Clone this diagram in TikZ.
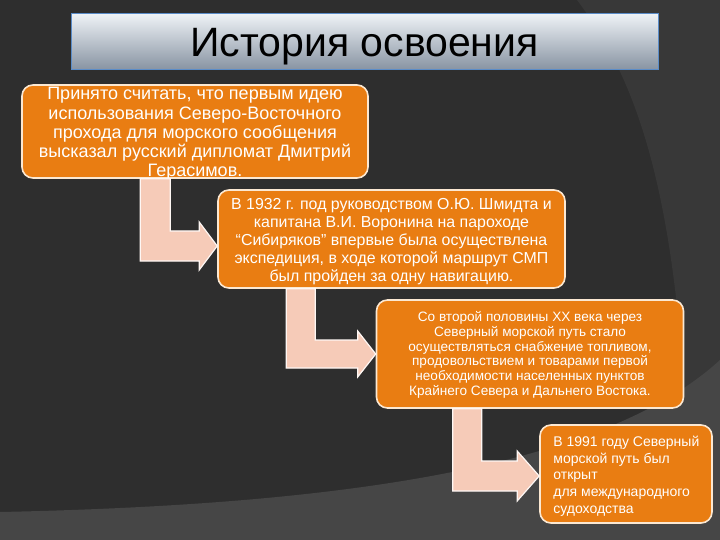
\documentclass[tikz,border=0pt]{standalone}
\usepackage{fontspec}
\setmainfont{Liberation Sans}
\usepackage{tikz}
\usetikzlibrary{positioning,calc}
\definecolor{slide}{HTML}{2E2E2E}
\definecolor{slidemid}{HTML}{383838}
\definecolor{slidelow}{HTML}{464646}
\definecolor{stage}{HTML}{E97D12}
\definecolor{stageedge}{HTML}{FBE8D2}
\definecolor{flow}{HTML}{F6CBB8}
\definecolor{titletop}{HTML}{EEF2F6}
\definecolor{titlebot}{HTML}{8793A2}
\definecolor{titleedge}{HTML}{5A8CC8}

\begin{document}
\begin{tikzpicture}[x=1pt, y=-1pt,
    stagebox/.style={draw=stageedge, line width=1.6pt, fill=stage, rounded corners=11pt, inner sep=0pt},
    stagetext/.style={text=white, inner sep=0pt, anchor=north},
    bentarrow/.style={draw=white!85!flow, line width=1.2pt, fill=flow}]

    % slide background
    \fill[slide] (0,0) rectangle (720,540);
    \fill[slidemid] (577,0) .. controls (645,90) and (685,220) .. (690,540) -- (720,540) -- (720,0) -- cycle;
    \fill[slidelow] (0,512) .. controls (330,505) and (600,470) .. (720,360) -- (720,540) -- (0,540) -- cycle;
    \useasboundingbox (0,0) rectangle (720,540);

    \node[draw=titleedge, line width=1pt, top color=titletop, bottom color=titlebot, minimum width=587pt, minimum height=56pt, inner sep=0pt] (title) at (364.5,42) {};
    \node[anchor=base, inner sep=0pt, font=\fontsize{41}{46}\selectfont] (titletext) at ($(title.center)+(0,15)$) {История освоения};

    \node[stagebox, minimum width=346pt, minimum height=93pt] (first) at (195,131.5) {};
    \node[stagetext, align=center, font=\fontsize{18}{19.3}\selectfont] (firsttext) at ($(first.north)+(0,3)$) {Принято считать, что первым идею\\использования Северо-Восточного\\прохода для морского сообщения\\высказал русский дипломат Дмитрий\\Герасимов.};

    \node[stagebox, minimum width=347pt, minimum height=98pt] (second) at (391.5,239) {};
    \node[stagetext, align=center, font=\fontsize{15.9}{18}\selectfont] (secondtext) at ($(second.north)+(0,9)$) {В 1932 г. под руководством О.Ю. Шмидта и\\капитана В.И. Воронина на пароходе\\“Сибиряков” впервые была осуществлена\\экспедиция, в ходе которой маршрут СМП\\был пройден за одну навигацию.};

    \node[stagebox, minimum width=307pt, minimum height=108pt] (third) at (530,354) {};
    \node[stagetext, align=center, font=\fontsize{13.6}{14.8}\selectfont] (thirdtext) at ($(third.north)+(0,12)$) {Со второй половины XX века через\\Северный морской путь стало\\осуществляться снабжение топливом,\\продовольствием и товарами первой\\необходимости населенных пунктов\\Крайнего Севера и Дальнего Востока.};

    \node[stagebox, minimum width=172pt, minimum height=98pt] (fourth) at (626,474) {};
    \node[stagetext, anchor=north west, align=left, font=\fontsize{14}{16.6}\selectfont] (fourthtext) at ($(fourth.north west)+(14,12)$) {В 1991 году Северный\\морской путь был\\открыт\\для международного\\судоходства};

    % bent arrows between the stages
    \coordinate (s1) at ($(first.south west)+(119,0)$);
    \coordinate (t1) at ($(second.west)+(0,7)$);
    \draw[bentarrow] (s1) -- ($(s1|-t1)+(0,15)$) -- ($(t1)+(-18,15)$) -- ($(t1)+(-18,24)$) -- (t1) -- ($(t1)+(-18,-24)$) -- ($(t1)+(-18,-15)$) -- ($(s1|-t1)+(30,-15)$) -- ($(s1)+(30,0)$) -- cycle;

    \coordinate (s2) at ($(second.south west)+(69,0)$);
    \coordinate (t2) at (third.west);
    \draw[bentarrow] (s2) -- ($(s2|-t2)+(0,14)$) -- ($(t2)+(-18,14)$) -- ($(t2)+(-18,23)$) -- (t2) -- ($(t2)+(-18,-23)$) -- ($(t2)+(-18,-14)$) -- ($(s2|-t2)+(29,-14)$) -- ($(s2)+(29,0)$) -- cycle;

    \coordinate (s3) at ($(third.south west)+(77,0)$);
    \coordinate (t3) at ($(fourth.west)+(0,2)$);
    \draw[bentarrow] (s3) -- ($(s3|-t3)+(0,15)$) -- ($(t3)+(-22,15)$) -- ($(t3)+(-22,25)$) -- (t3) -- ($(t3)+(-22,-25)$) -- ($(t3)+(-22,-15)$) -- ($(s3|-t3)+(29,-15)$) -- ($(s3)+(29,0)$) -- cycle;
\end{tikzpicture}
\end{document}
